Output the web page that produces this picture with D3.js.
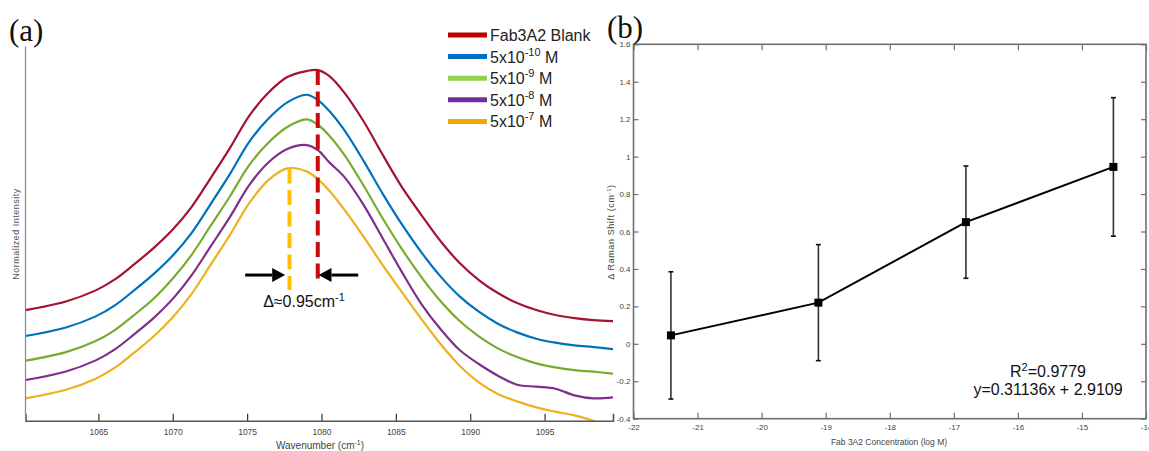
<!DOCTYPE html>
<html>
<head>
<meta charset="utf-8">
<script src="https://cdn.jsdelivr.net/npm/d3@7"></script>
<style>
    body { margin: 0; background: #fff; }
    svg { display: block; }
</style>
</head>
<body>
<svg></svg>
<script>
// ---- panel (a) : spectra ----
const wavenumbers = [1060.1, 1062.76, 1064.82, 1066.11, 1067.40, 1068.69, 1069.97, 1071.26, 1072.55, 1073.83,
    1075.13, 1076.41, 1077.70, 1078.99, 1079.76, 1080.53, 1081.56, 1082.85, 1084.14, 1085.42,
    1086.72, 1088.0, 1089.29, 1090.58, 1091.86, 1093.15, 1094.44, 1095.73, 1097.01, 1098.3, 1099.6];

const blank = [.332, .357, .391, .424, .469, .517, .572, .641, .728, .817,
    .914, .983, 1.031, 1.049, 1.052, 1.034, .983, .897, .796, .700,
    .617, .539, .473, .422, .383, .353, .332, .317, .308, .302, .299];
const conc10 = [.254, .279, .313, .346, .391, .439, .494, .563, .650, .739,
    .836, .905, .955, .978, .962, .929, .870, .778, .679, .588,
    .505, .433, .373, .327, .291, .265, .246, .234, .226, .221, .215];
const conc9 = [.180, .205, .239, .272, .317, .365, .425, .497, .585, .672,
    .766, .833, .881, .904, .888, .855, .796, .704, .605, .514,
    .431, .359, .299, .253, .217, .191, .172, .160, .152, .147, .141];
const conc8 = [.122, .147, .181, .214, .259, .307, .364, .436, .523, .610,
    .706, .774, .815, .827, .812, .775, .730, .646, .545, .445,
    .350, .275, .212, .170, .135, .108, .102, .096, .076, .067, .070];
const conc7 = [.067, .092, .126, .159, .204, .252, .309, .380, .468, .556,
    .652, .721, .757, .748, .725, .690, .632, .551, .465, .385,
    .305, .230, .165, .115, .080, .058, .040, .027, .016, .000, -.012];

const seriesNames = ['Fab3A2 Blank', '5x10', '5x10', '5x10', '5x10'];
const seriesExp = ['', '-10', '-9', '-8', '-7'];
const seriesUnit = ['', ' M', ' M', ' M', ' M'];
const curveColors = ['#A2142F', '#0072BD', '#77AC30', '#7E2F8E', '#EDB120'];
const legendColors = ['#B80000', '#0070C0', '#92D050', '#7030A0', '#F0A800'];

const xTicksA = [1065, 1070, 1075, 1080, 1085, 1090, 1095];
const peakBlank = 1079.75, peakShifted = 1077.85;

// ---- panel (b) : shift vs concentration ----
const logConc = [-21.416, -19.114, -16.811, -14.509];
const ramanShift = [0.045, 0.22, 0.65, 0.945];
const shiftError = [0.34, 0.31, 0.30, 0.37];
const xTicksB = [-22, -21, -20, -19, -18, -17, -16, -15, -14];
const yTicksB = [-0.4, -0.2, 0, 0.2, 0.4, 0.6, 0.8, 1, 1.2, 1.4, 1.6];

const sans = '"Liberation Sans", Arial, sans-serif';
const serif = '"Liberation Serif", "Times New Roman", serif';

let width = 1149;
let height = 451;

let svg = d3.select('svg')
    .attr('width', width)
    .attr('height', height)
    .style('font-family', sans);

// ================= (a) =================
let xA = d3.scaleLinear().domain([1060.1, 1099.6]).range([25.5, 613]);
let yA = d3.scaleLinear().domain([0, 1.12]).range([420.7, 47.4]);

let ga = svg.append('g');

svg.append('defs').append('clipPath').attr('id', 'clipA')
    .append('rect')
    .attr('x', xA.range()[0]).attr('y', yA.range()[1])
    .attr('width', xA.range()[1] - xA.range()[0])
    .attr('height', yA.range()[0] - yA.range()[1]);

let series = [blank, conc10, conc9, conc8, conc7];
let line = d3.line()
    .x((d, i) => xA(wavenumbers[i]))
    .y(d => yA(d))
    .curve(d3.curveCatmullRom.alpha(0.5));

ga.append('g').attr('clip-path', 'url(#clipA)')
    .selectAll('path')
    .data(series)
    .join('path')
    .attr('d', line)
    .attr('fill', 'none')
    .attr('stroke', (d, i) => curveColors[i])
    .attr('stroke-width', 2.2);

// axes
let axisA = d3.axisBottom(xA).tickValues(xTicksA).tickSize(-7).tickPadding(8).tickFormat(d3.format('d'));
let gxA = ga.append('g')
    .attr('transform', `translate(0, ${yA(0)})`)
    .call(axisA);
gxA.select('.domain').attr('stroke', '#555').attr('stroke-width', 1.6);
gxA.selectAll('.tick line').attr('stroke', '#333').attr('stroke-width', 1.2);
gxA.selectAll('.tick text').attr('font-size', 8.5).attr('fill', '#444')
    .style('font-family', sans);

ga.append('line')
    .attr('x1', xA.range()[0]).attr('x2', xA.range()[0])
    .attr('y1', yA(0)).attr('y2', yA.range()[1] - 1)
    .attr('stroke', '#888').attr('stroke-width', 1.2);

// dashed peak markers
ga.append('line')
    .attr('x1', xA(peakBlank)).attr('x2', xA(peakBlank))
    .attr('y1', yA(1.052)).attr('y2', yA(0.417))
    .attr('stroke', '#C80A0A').attr('stroke-width', 4)
    .attr('stroke-dasharray', '15 6.5');
ga.append('line')
    .attr('x1', xA(peakShifted)).attr('x2', xA(peakShifted))
    .attr('y1', yA(0.757)).attr('y2', yA(0.392))
    .attr('stroke', '#FFC000').attr('stroke-width', 4)
    .attr('stroke-dasharray', '15 6.5');

// arrows
let arrowY = yA(0.437);
function arrow(xTail, xTip) {
    let dir = xTip > xTail ? 1 : -1;
    let base = xTip - dir * 13;
    ga.append('line')
        .attr('x1', xTail).attr('x2', base)
        .attr('y1', arrowY).attr('y2', arrowY)
        .attr('stroke', '#000').attr('stroke-width', 3);
    ga.append('path')
        .attr('d', `M${xTip},${arrowY} L${base},${arrowY - 7} L${base},${arrowY + 7} Z`)
        .attr('fill', '#000');
}
arrow(xA(1074.87), xA(1077.56));
arrow(xA(1082.47), xA(1079.80));

let dt = ga.append('text')
    .attr('x', 304).attr('y', 307)
    .attr('text-anchor', 'middle')
    .attr('font-size', 16).attr('fill', '#111');
dt.append('tspan').text('Δ≈0.95cm');
dt.append('tspan').attr('font-size', 11).attr('dy', -6).text('-1');

// legend
let leg = ga.append('g');
seriesNames.forEach((name, i) => {
    let y = 35 + i * 21.6;
    leg.append('line')
        .attr('x1', 448).attr('x2', 487)
        .attr('y1', y).attr('y2', y)
        .attr('stroke', legendColors[i]).attr('stroke-width', 5);
    let t = leg.append('text')
        .attr('x', 490).attr('y', y + 6)
        .attr('font-size', 16).attr('fill', '#222');
    t.append('tspan').text(name);
    if (seriesExp[i]) {
        t.append('tspan').attr('font-size', 11).attr('dy', -7).text(seriesExp[i]);
        t.append('tspan').attr('dy', 7).text(seriesUnit[i]);
    }
});

// axis titles
let xt = ga.append('text')
    .attr('x', 320).attr('y', 449)
    .attr('text-anchor', 'middle')
    .attr('font-size', 10).attr('fill', '#444');
xt.append('tspan').text('Wavenumber (cm');
xt.append('tspan').attr('font-size', 7).attr('dy', -4).text('-1');
xt.append('tspan').attr('dy', 4).text(')');

ga.append('text')
    .attr('transform', 'translate(19, 234) rotate(-90)')
    .attr('text-anchor', 'middle')
    .attr('font-size', 9).attr('fill', '#555')
    .attr('letter-spacing', 0.5)
    .text('Normalized Intensity');

svg.append('text')
    .attr('x', 9).attr('y', 41)
    .style('font-family', serif)
    .attr('font-size', 31).attr('fill', '#111')
    .text('(a)');

// ================= (b) =================
let xB = d3.scaleLinear().domain([-22, -14]).range([633.5, 1146]);
let yB = d3.scaleLinear().domain([-0.4, 1.6]).range([418.7, 44.3]);

let gb = svg.append('g');
const frame = '#6e6e6e';

gb.append('rect')
    .attr('x', xB(-22)).attr('y', yB(1.6))
    .attr('width', xB(-14) - xB(-22))
    .attr('height', yB(-0.4) - yB(1.6))
    .attr('fill', 'none')
    .attr('stroke', frame).attr('stroke-width', 1.6);

let fmt = d => String(+d.toFixed(1));
let gxB = gb.append('g')
    .attr('transform', `translate(0, ${yB(-0.4)})`)
    .call(d3.axisBottom(xB).tickValues(xTicksB).tickSize(-6).tickPadding(6).tickFormat(d => String(d)));
let gxB2 = gb.append('g')
    .attr('transform', `translate(0, ${yB(1.6)})`)
    .call(d3.axisTop(xB).tickValues(xTicksB).tickSize(-6).tickFormat(''));
let gyB = gb.append('g')
    .attr('transform', `translate(${xB(-22)}, 0)`)
    .call(d3.axisLeft(yB).tickValues(yTicksB).tickSize(-5).tickPadding(3).tickFormat(fmt));
let gyB2 = gb.append('g')
    .attr('transform', `translate(${xB(-14)}, 0)`)
    .call(d3.axisRight(yB).tickValues(yTicksB).tickSize(-5).tickFormat(''));

[gxB, gxB2, gyB, gyB2].forEach(g => {
    g.select('.domain').remove();
    g.selectAll('.tick line').attr('stroke', frame).attr('stroke-width', 1.2);
    g.selectAll('.tick text').attr('font-size', 8).attr('fill', '#444')
        .style('font-family', sans);
});

// error bars
let pts = logConc.map((x, i) => ({x: x, y: ramanShift[i], e: shiftError[i]}));
let eb = gb.append('g').selectAll('g').data(pts).join('g');
eb.append('line')
    .attr('x1', d => xB(d.x)).attr('x2', d => xB(d.x))
    .attr('y1', d => yB(d.y + d.e)).attr('y2', d => yB(d.y - d.e))
    .attr('stroke', '#333').attr('stroke-width', 1.6);
eb.selectAll('line.cap')
    .data(d => [d.y + d.e, d.y - d.e].map(v => ({x: d.x, v: v})))
    .join('line')
    .attr('class', 'cap')
    .attr('x1', d => xB(d.x) - 2.5).attr('x2', d => xB(d.x) + 2.5)
    .attr('y1', d => yB(d.v)).attr('y2', d => yB(d.v))
    .attr('stroke', '#111').attr('stroke-width', 1.6);

gb.append('path')
    .datum(pts)
    .attr('d', d3.line().x(d => xB(d.x)).y(d => yB(d.y)))
    .attr('fill', 'none')
    .attr('stroke', '#000').attr('stroke-width', 2);

gb.selectAll('rect.mk')
    .data(pts)
    .join('rect')
    .attr('class', 'mk')
    .attr('x', d => xB(d.x) - 4).attr('y', d => yB(d.y) - 4)
    .attr('width', 8).attr('height', 8)
    .attr('fill', '#000');

// fit annotation
let r2 = gb.append('text')
    .attr('x', 1048).attr('y', 377)
    .attr('text-anchor', 'middle')
    .attr('font-size', 16).attr('fill', '#111');
r2.append('tspan').text('R');
r2.append('tspan').attr('font-size', 11).attr('dy', -6).text('2');
r2.append('tspan').attr('dy', 6).text('=0.9779');
gb.append('text')
    .attr('x', 1048).attr('y', 395)
    .attr('text-anchor', 'middle')
    .attr('font-size', 16).attr('fill', '#111')
    .text('y=0.31136x + 2.9109');

gb.append('text')
    .attr('x', 889).attr('y', 445)
    .attr('text-anchor', 'middle')
    .attr('font-size', 8.5).attr('fill', '#444')
    .text('Fab 3A2 Concentration (log M)');

let yt = gb.append('text')
    .attr('transform', 'translate(614, 232) rotate(-90)')
    .attr('text-anchor', 'middle')
    .attr('font-size', 9).attr('fill', '#444')
    .attr('letter-spacing', 0.6);
yt.append('tspan').text('Δ Raman Shift (cm');
yt.append('tspan').attr('font-size', 6).attr('dy', -3).text('-1');
yt.append('tspan').attr('dy', 3).text(')');

svg.append('text')
    .attr('x', 607).attr('y', 38)
    .style('font-family', serif)
    .attr('font-size', 31).attr('fill', '#111')
    .text('(b)');
</script>
</body>
</html>
